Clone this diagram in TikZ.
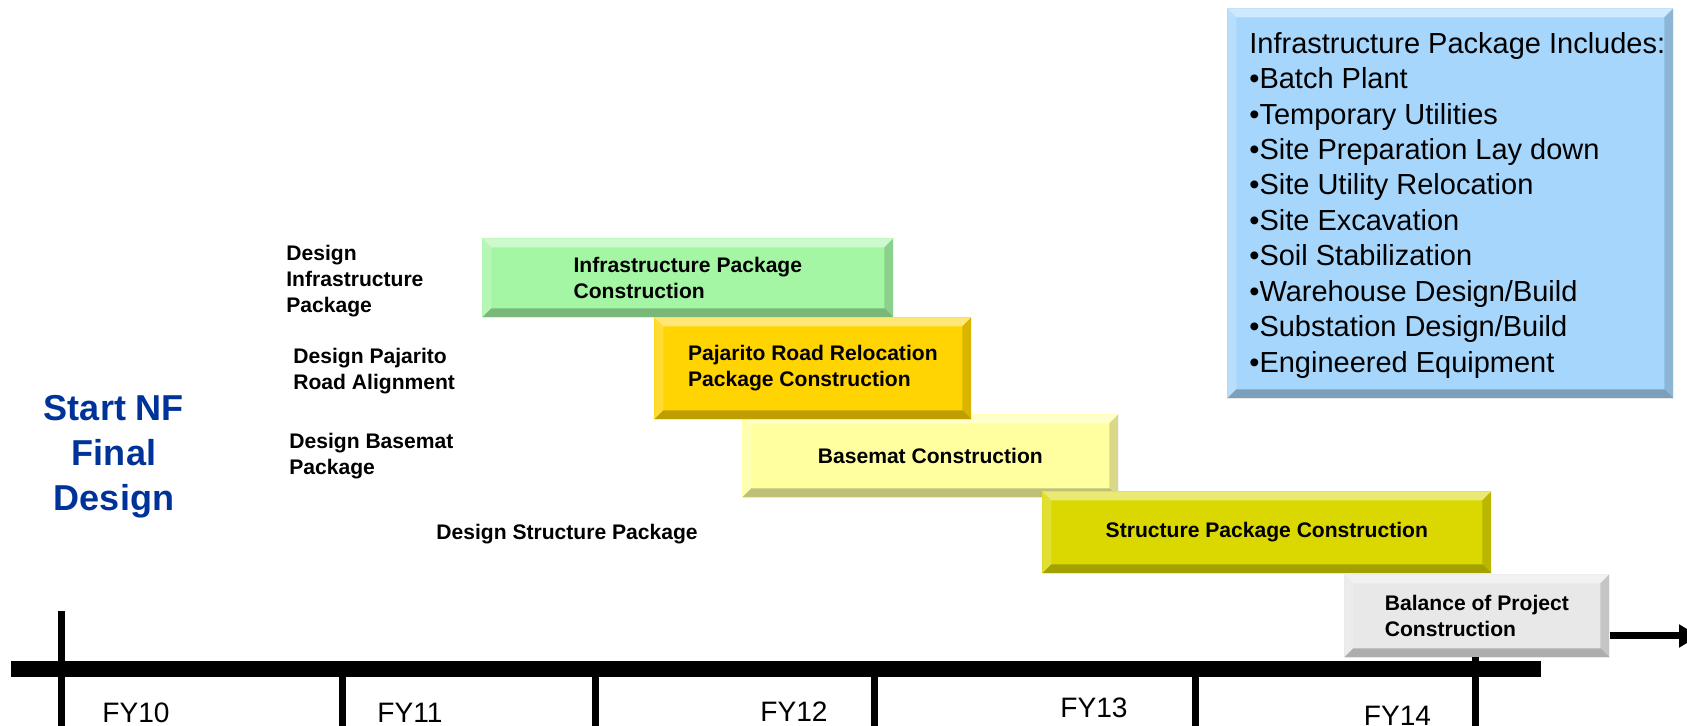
\documentclass[tikz,border=0pt]{standalone}
\usepackage{fontspec}
\setmainfont{Liberation Sans}
\usetikzlibrary{arrows.meta}

\definecolor{infragreen}{RGB}{164,246,164}
\definecolor{roadgold}{RGB}{255,212,0}
\definecolor{basematyellow}{RGB}{255,255,160}
\definecolor{structyellow}{RGB}{218,216,0}
\definecolor{balancegrey}{RGB}{232,232,232}
\definecolor{includesblue}{RGB}{166,214,252}
\definecolor{startblue}{RGB}{0,51,153}

\newcommand{\bevw}{0.18}

\tikzset{
  bevelbox/.style={fill=#1, inner sep=0pt, anchor=north west, align=left,
    font=\fontsize{12}{14.8}\selectfont\bfseries,
    path picture={
      % light top and left faces, dark bottom and right faces
      \fill[white,opacity=.45] (path picture bounding box.north west) -- (path picture bounding box.north east)
        -- ([shift={(-\bevw,-\bevw)}]path picture bounding box.north east)
        -- ([shift={(\bevw,-\bevw)}]path picture bounding box.north west) -- cycle;
      \fill[white,opacity=.2] (path picture bounding box.north west) -- ([shift={(\bevw,-\bevw)}]path picture bounding box.north west)
        -- ([shift={(\bevw,\bevw)}]path picture bounding box.south west)
        -- (path picture bounding box.south west) -- cycle;
      \fill[black,opacity=.25] (path picture bounding box.south west) -- (path picture bounding box.south east)
        -- ([shift={(-\bevw,\bevw)}]path picture bounding box.south east)
        -- ([shift={(\bevw,\bevw)}]path picture bounding box.south west) -- cycle;
      \fill[black,opacity=.15] (path picture bounding box.north east) -- (path picture bounding box.south east)
        -- ([shift={(-\bevw,\bevw)}]path picture bounding box.south east)
        -- ([shift={(-\bevw,-\bevw)}]path picture bounding box.north east) -- cycle;
    }},
  designlabel/.style={anchor=north west, inner sep=0pt, align=left, font=\fontsize{12}{14.8}\selectfont\bfseries},
  fylabel/.style={anchor=north west, inner sep=0pt, font=\fontsize{16}{19}\selectfont},
  fytick/.style={line width=0.14cm}
}

\begin{document}
\begin{tikzpicture}
                    \useasboundingbox (0.000000,0.000000) rectangle (33.740000,14.520000);

                    % Drawing time line
                    \draw [line width=0.32cm] (0.220000,1.140000) -- (30.820000,1.140000);%
                    \draw [fytick] (1.220000,2.300000) -- (1.220000,-0.100000);%
                    \foreach \x in {6.840000,11.900000,17.480000,23.900000}
                      \draw [fytick] (\x,1.140000) -- (\x,-0.100000);%
                    \draw [fytick] (29.500000,2.000000) -- (29.500000,-0.100000);%

                    % Marking years
                    \node (fy10) [fylabel] at (2.040000,0.470000) {FY10};%
                    \node (fy11) [fylabel] at (7.540000,0.460000) {FY11};%
                    \node (fy12) [fylabel] at (15.200000,0.480000) {FY12};%
                    \node (fy13) [fylabel] at (21.200000,0.560000) {FY13};%
                    \node (fy14) [fylabel] at (27.270000,0.400000) {FY14};%

                    % Marking start of final design
                    \node (start) [anchor=north, inner sep=0pt, align=center, text=startblue,
                      font=\fontsize{20.5}{25.6}\selectfont\bfseries] at (2.280000,6.620000) {Start NF\\Final\\Design};%

                    % Marking design packages
                    \node (desinfra) [designlabel] at (5.720000,9.620000) {Design\\Infrastructure\\Package};%
                    \node (desroad) [designlabel] at (5.860000,7.570000) {Design Pajarito\\Road Alignment};%
                    \node (desbase) [designlabel] at (5.780000,5.860000) {Design Basemat\\Package};%
                    \node (desstruct) [designlabel] at (8.720000,4.040000) {Design Structure Package};%

                    % Drawing construction boxes
                    \node (infra) [bevelbox=infragreen, minimum width=8.22cm, minimum height=1.58cm]
                      at (9.640000,9.760000) {Infrastructure Package\\Construction};%
                    \node (base) [bevelbox=basematyellow, minimum width=7.52cm, minimum height=1.66cm]
                      at (14.840000,6.240000) {Basemat Construction};%
                    \node (road) [bevelbox=roadgold, minimum width=6.34cm, minimum height=2.04cm]
                      at (13.080000,8.180000) {Pajarito Road Relocation\\Package Construction};%
                    \node (struct) [bevelbox=structyellow, minimum width=8.98cm, minimum height=1.64cm]
                      at (20.840000,4.700000) {Structure Package Construction};%
                    \node (bal) [bevelbox=balancegrey, minimum width=5.30cm, minimum height=1.66cm]
                      at (26.880000,3.040000) {Balance of Project\\Construction};%

                    % Drawing arrow out of balance box
                    \coordinate (arrowtip) at (33.980000,1.800000);%
                    \draw [line width=0.14cm, -{Triangle[length=0.4cm,width=0.44cm]}] (bal.east |- arrowtip) -- (arrowtip);%

                    % Drawing box of infrastructure package
                    \node (incl) [bevelbox=includesblue, minimum width=8.92cm, minimum height=7.80cm]
                      at (24.540000,14.360000) {};%
                    \node (incltext) [anchor=north west, inner sep=0pt, align=left,
                      font=\fontsize{16.5}{20.15}\selectfont] at ([shift={(0.44,-0.48)}]incl.north west)
                      {Infrastructure Package Includes:\\
                       •Batch Plant\\
                       •Temporary Utilities\\
                       •Site Preparation Lay down\\
                       •Site Utility Relocation\\
                       •Site Excavation\\
                       •Soil Stabilization\\
                       •Warehouse Design/Build\\
                       •Substation Design/Build\\
                       •Engineered Equipment};%
\end{tikzpicture}
\end{document}
